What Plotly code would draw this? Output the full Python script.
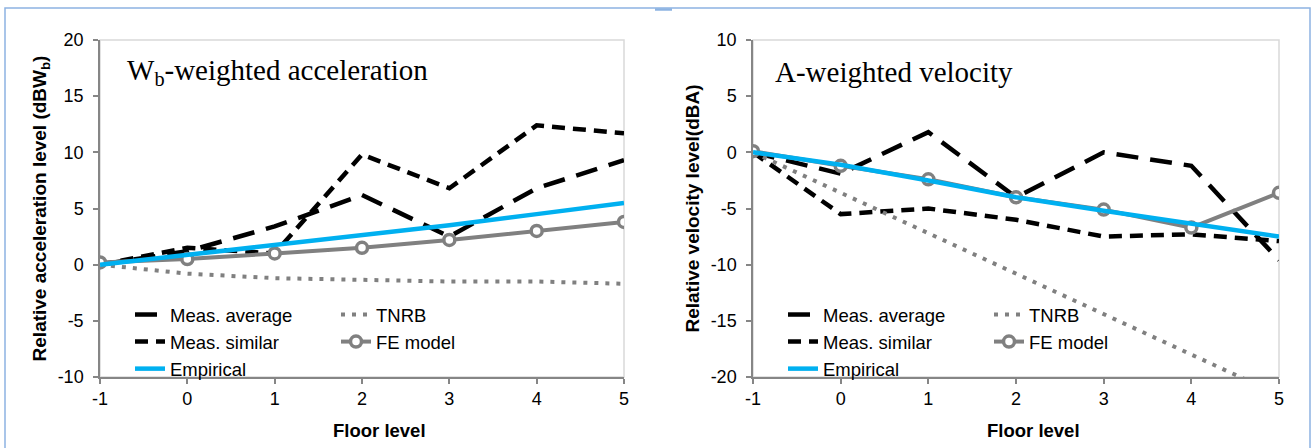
import plotly.graph_objects as go

# ---------------- data ----------------
floors = [-1, 0, 1, 2, 3, 4, 5]
x_tick_labels = ["-1", "0", "1", "2", "3", "4", "5"]

acc_meas_average = [0.0, 1.2, 3.4, 6.2, 2.5, 6.8, 9.3]
acc_meas_similar = [0.0, 1.5, 1.0, 9.8, 6.8, 12.4, 11.7]
acc_tnrb = [0.0, -0.8, -1.2, -1.35, -1.5, -1.5, -1.7]
acc_fe_model = [0.2, 0.5, 1.0, 1.5, 2.2, 3.0, 3.8]
acc_empirical = [0.0, 0.85, 1.8, 2.65, 3.5, 4.5, 5.5]

vel_meas_average = [0.0, -1.9, 1.8, -4.0, 0.0, -1.2, -9.6]
vel_meas_similar = [0.0, -5.5, -5.0, -6.0, -7.5, -7.3, -7.9]
vel_tnrb = [0.0, -3.6, -7.2, -10.8, -14.4, -18.0, -21.6]
vel_fe_model = [0.1, -1.2, -2.4, -4.0, -5.1, -6.7, -3.6]
vel_empirical = [0.0, -1.1, -2.5, -4.0, -5.2, -6.35, -7.5]

acc_yticks = [-10, -5, 0, 5, 10, 15, 20]
acc_ytick_labels = ["-10", "-5", "0", "5", "10", "15", "20"]
vel_yticks = [-20, -15, -10, -5, 0, 5, 10]
vel_ytick_labels = ["-20", "-15", "-10", "-5", "0", "5", "10"]

# ---------------- styles ----------------
SANS = "Liberation Sans, Arial, sans-serif"
SERIF = "Liberation Serif, Times New Roman, serif"
AXIS_GRAY = "#868686"
BORDER_GRAY = "#D9D9D9"

fig = go.Figure()


def add_panel(xa, ya, avg, sim, tnrb, fe, emp, leg_a, leg_b):
    fig.add_trace(go.Scatter(
        x=floors, y=avg, name="Meas. average", mode="lines",
        line=dict(color="black", width=4.5, dash="22px,12px"),
        xaxis=xa, yaxis=ya, legend=leg_a))
    fig.add_trace(go.Scatter(
        x=floors, y=sim, name="Meas. similar", mode="lines",
        line=dict(color="black", width=4.5, dash="13px,8px"),
        xaxis=xa, yaxis=ya, legend=leg_a))
    fig.add_trace(go.Scatter(
        x=floors, y=tnrb, name="TNRB", mode="lines",
        line=dict(color="#808080", width=4, dash="4px,7px"),
        xaxis=xa, yaxis=ya, legend=leg_b))
    fig.add_trace(go.Scatter(
        x=floors, y=fe, name="FE model", mode="lines+markers",
        line=dict(color="#808080", width=4),
        marker=dict(symbol="circle", size=11, color="white",
                    line=dict(color="#808080", width=3.5)),
        xaxis=xa, yaxis=ya, legend=leg_b))
    fig.add_trace(go.Scatter(
        x=floors, y=emp, name="Empirical", mode="lines",
        line=dict(color="#00B0F0", width=4.5),
        xaxis=xa, yaxis=ya, legend=leg_a))


add_panel("x", "y", acc_meas_average, acc_meas_similar, acc_tnrb,
          acc_fe_model, acc_empirical, "legend", "legend2")
add_panel("x2", "y2", vel_meas_average, vel_meas_similar, vel_tnrb,
          vel_fe_model, vel_empirical, "legend3", "legend4")

W, H = 1313, 448
L, R, T, B = 100, 34, 40, 71
PW = W - L - R
PH = H - T - B


def px(xp):
    return (xp - L) / PW


def py(yp):
    return (H - B - yp) / PH


common_x = dict(
    range=[-1, 5], tickvals=floors, ticktext=x_tick_labels,
    ticks="outside", ticklen=5, tickwidth=1.5, tickcolor=AXIS_GRAY,
    showline=True, linecolor=AXIS_GRAY, linewidth=1.5,
    showgrid=False, zeroline=False,
    tickfont=dict(family=SANS, size=18, color="black"),
)
common_y = dict(
    ticks="outside", ticklen=5, tickwidth=1.5, tickcolor=AXIS_GRAY,
    showline=True, linecolor=AXIS_GRAY, linewidth=1.5,
    showgrid=False, zeroline=False, ticklabelstandoff=6,
    tickfont=dict(family=SANS, size=18, color="black"),
)

legend_common = dict(
    xanchor="left", yanchor="top", bgcolor="rgba(0,0,0,0)",
    borderwidth=0, tracegroupgap=0, itemclick=False, itemdoubleclick=False,
    font=dict(family=SANS, size=18.5, color="black"),
)

fig.update_layout(
    width=W, height=H,
    margin=dict(l=L, r=R, t=T, b=B),
    paper_bgcolor="white", plot_bgcolor="white",
    xaxis=dict(domain=[0, px(624)], anchor="y", **common_x),
    yaxis=dict(domain=[0, 1], anchor="x", range=[-10, 20], tickvals=acc_yticks,
               ticktext=acc_ytick_labels,
               title=dict(text="Relative acceleration level (dBW<sub>b</sub>)",
                          font=dict(family=SANS, size=19, color="black", weight="bold"),
                          standoff=6),
               **common_y),
    xaxis2=dict(domain=[px(753), 1], anchor="y2", **common_x),
    yaxis2=dict(domain=[0, 1], anchor="x2", range=[-20, 10], tickvals=vel_yticks,
                ticktext=vel_ytick_labels,
                title=dict(text="Relative velocity level(dBA)",
                           font=dict(family=SANS, size=19, color="black", weight="bold"),
                           standoff=6),
                **common_y),
    legend=dict(x=px(130), y=py(296), **legend_common),
    legend2=dict(x=px(336), y=py(296), **legend_common),
    legend3=dict(x=px(783), y=py(296), **legend_common),
    legend4=dict(x=px(989), y=py(296), **legend_common),
)

# plot-area borders (top/right light gray)
for xr, yr in (("x domain", "y domain"), ("x2 domain", "y2 domain")):
    fig.add_shape(type="rect", xref=xr, yref=yr, x0=0, x1=1, y0=0, y1=1,
                  line=dict(color=BORDER_GRAY, width=1.5), layer="below")

# outer light-blue frame
fig.add_shape(type="rect", xref="paper", yref="paper",
              x0=px(5), x1=px(1310), y0=py(470), y1=py(8),
              line=dict(color="#8DB3E2", width=1.5))
fig.add_shape(type="line", xref="paper", yref="paper",
              x0=px(655), x1=px(672), y0=py(9.5), y1=py(9.5),
              line=dict(color="#8DB3E2", width=2.5))

# panel titles
fig.add_annotation(xref="x domain", yref="y domain", x=(125 - 100) / 524, y=py(72),
                   text="W<sub>b</sub>-weighted acceleration", showarrow=False,
                   xanchor="left", yanchor="middle",
                   font=dict(family=SERIF, size=29, color="black"))
fig.add_annotation(xref="x2 domain", yref="y2 domain", x=(773 - 753) / 526, y=py(72),
                   text="A-weighted velocity", showarrow=False,
                   xanchor="left", yanchor="middle",
                   font=dict(family=SERIF, size=29, color="black"))

# x-axis titles
for xc in (379, 1033):
    fig.add_annotation(xref="paper", yref="paper", x=px(xc), y=py(430),
                       text="<b>Floor level</b>", showarrow=False,
                       xanchor="center", yanchor="middle",
                       font=dict(family=SANS, size=18.5, color="black"))

fig.write_html("out.html", config={"displayModeBar": False},
               post_script="document.body.style.margin='0';")
